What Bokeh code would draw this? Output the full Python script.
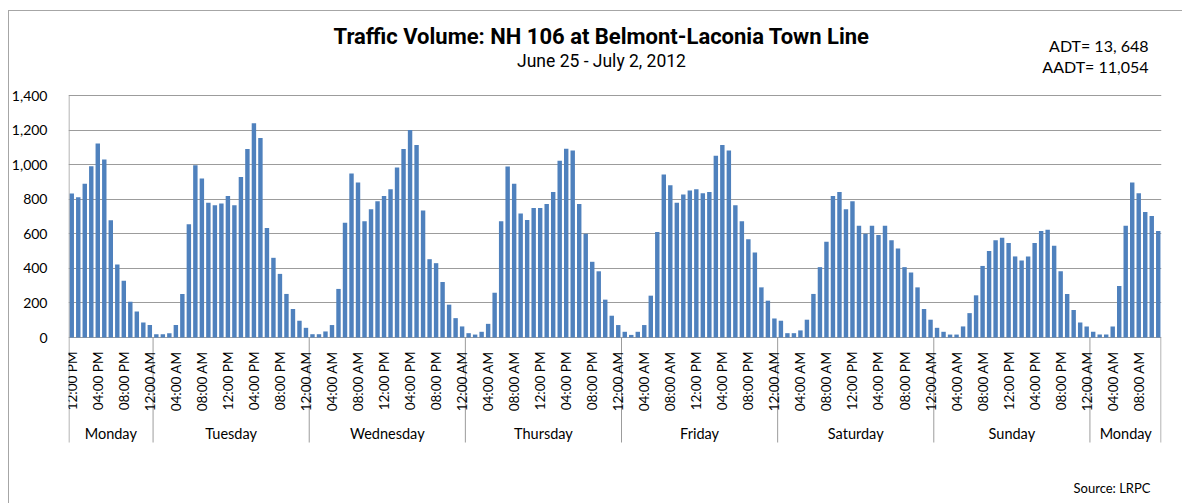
import math
from bokeh.plotting import figure
from bokeh.models import Range1d, FixedTicker, NumeralTickFormatter
from bokeh.core.properties import value
from bokeh.embed import file_html
from bokeh.resources import INLINE

# ---------------- data ----------------
title_text = "Traffic Volume: NH 106 at Belmont-Laconia Town Line"
subtitle_text = "June 25 - July 2, 2012"
adt_text = "ADT= 13, 648"
aadt_text = "AADT= 11,054"
source_text = "Source: LRPC"

day_names = ["Monday", "Tuesday", "Wednesday", "Thursday", "Friday",
             "Saturday", "Sunday", "Monday"]
first_hour = 12  # first bar is 12:00 PM on Monday

mon1 = [833, 811, 889, 991, 1123, 1030, 678, 422, 329, 207, 151, 87, 72]
tue = [19, 19, 25, 72, 252, 655, 997, 920, 780, 765, 775, 819, 765, 928,
       1090, 1239, 1154, 633, 461, 368, 252, 165, 97, 56]
wed = [19, 19, 35, 72, 281, 664, 949, 897, 672, 742, 788, 819, 858, 984,
       1090, 1201, 1113, 734, 453, 430, 321, 190, 112, 64]
thu = [25, 17, 33, 79, 259, 672, 989, 889, 718, 680, 749, 749, 773, 842,
       1022, 1092, 1082, 773, 600, 438, 383, 219, 126, 72]
fri = [33, 15, 33, 72, 242, 610, 943, 881, 780, 827, 850, 858, 835, 842,
       1051, 1113, 1082, 765, 672, 569, 492, 290, 213, 110]
sat = [97, 25, 25, 41, 103, 252, 407, 554, 819, 842, 742, 788, 647, 600,
       647, 593, 647, 562, 515, 407, 376, 290, 165, 103]
sun = [56, 33, 17, 17, 64, 141, 244, 414, 500, 562, 577, 546, 469, 445,
       469, 546, 616, 624, 531, 383, 252, 159, 87, 64]
mon2 = [33, 17, 17, 64, 298, 647, 897, 835, 726, 703, 616]

day_series = [mon1, tue, wed, thu, fri, sat, sun, mon2]
y_ticks = [0, 200, 400, 600, 800, 1000, 1200, 1400]

# ---------------- derived ----------------
volumes = [v for d in day_series for v in d]
n = len(volumes)
idx = list(range(n))


def hour_label(h):
    h12 = h % 12 or 12
    return "%02d:00 %s" % (h12, "AM" if h < 12 else "PM")


hours = [(first_hour + i) % 24 for i in idx]
lab_x = [i for i in idx if hours[i] % 4 == 0]
lab_t = [hour_label(hours[i]) for i in lab_x]

bounds = [-0.5]
for d in day_series:
    bounds.append(bounds[-1] + len(d))
day_centers = [(bounds[k] + bounds[k + 1]) / 2 for k in range(len(day_series))]

# ---------------- layout (page pixels) ----------------
W, H = 1182, 503
FL, FR, FT, FB = 68, 1161, 10, 503      # frame edges on the page
Y0_PX, YTOP_PX = 337, 95                # y=0 and y=1400 rows
ymax = y_ticks[-1]
k = (Y0_PX - YTOP_PX) / ymax            # px per unit
xpx = (FR - FL) / n                     # px per bar


def X(px):
    return -0.5 + (px - FL) / xpx


def Y(py):
    return (Y0_PX - py) / k


p = figure(width=W, height=H, output_backend="svg", toolbar_location=None,
           x_range=Range1d(-0.5, n - 0.5), y_range=Range1d(Y(FB), Y(FT)),
           x_axis_location=None, y_axis_location="left",
           min_border_left=FL, min_border_right=W - FR,
           min_border_top=FT, min_border_bottom=H - FB,
           background_fill_color=None, border_fill_color=None,
           outline_line_color=None)
# chart-area border (top and left edges)
p.styles = {"box-shadow": "inset 8px 0 0 0 #ffffff, inset 0 10px 0 0 #ffffff, "
                          "inset 9px 0 0 0 #a6a6a6, inset 0 11px 0 0 #a6a6a6"}

p.xgrid.visible = False
p.ygrid.ticker = FixedTicker(ticks=y_ticks)
p.ygrid.grid_line_color = "#9c9c9c"
p.ygrid.grid_line_width = 1

ax = p.yaxis[0]
ax.ticker = FixedTicker(ticks=y_ticks)
ax.formatter = NumeralTickFormatter(format="0,0")
ax.axis_line_color = None
ax.major_tick_line_color = None
ax.minor_tick_line_color = None
ax.major_label_standoff = 15
ax.major_label_text_font = "Lato"
ax.major_label_text_font_size = "14px"
ax.major_label_text_color = "#000000"

# bars
p.vbar(x=idx, top=volumes, bottom=0, width=0.68,
       fill_color="#4f81bd", line_color=None)

# axis lines and category separators
sep_x = [bounds[0] + 0.08] + bounds[1:-1] + [bounds[-1] - 0.08]
p.segment(x0=[sep_x[0]], y0=[Y(442)], x1=[sep_x[0]], y1=[ymax],
          line_color="#9c9c9c", line_width=1)
p.segment(x0=sep_x[1:], y0=[0] * (len(sep_x) - 1), x1=sep_x[1:],
          y1=[Y(442)] * (len(sep_x) - 1), line_color="#9c9c9c", line_width=1)

# hour labels (rotated) and day labels
p.text(x=lab_x, y=[Y(351)] * len(lab_x), text=lab_t, angle=math.pi / 2,
       text_align="right", text_baseline="middle",
       text_font=value("Lato"), text_font_size="13.5px", text_color="#000000")
p.text(x=day_centers, y=[Y(433)] * len(day_centers), text=day_names,
       text_align="center", text_baseline="middle",
       text_font=value("Lato"), text_font_size="14.5px", text_color="#000000")

# titles and notes
p.text(x=[X(601)], y=[Y(36)], text=[title_text], text_align="center",
       text_baseline="middle", text_font=value("Roboto"),
       text_font_style="bold", text_font_size="22px", text_color="#000000")
p.text(x=[X(601)], y=[Y(60)], text=[subtitle_text], text_align="center",
       text_baseline="middle", text_font=value("Roboto"),
       text_font_size="17.5px", text_color="#000000")
p.text(x=[X(1148)] * 2, y=[Y(45), Y(66)], text=[adt_text, aadt_text],
       text_align="right", text_baseline="middle", text_font=value("Lato"),
       text_font_size="16px", text_color="#000000")
p.text(x=[X(1150)], y=[Y(487)], text=[source_text], text_align="right",
       text_baseline="middle", text_font=value("Lato"),
       text_font_size="13px", text_color="#000000")

open("out.html", "w").write(file_html(p, INLINE))
